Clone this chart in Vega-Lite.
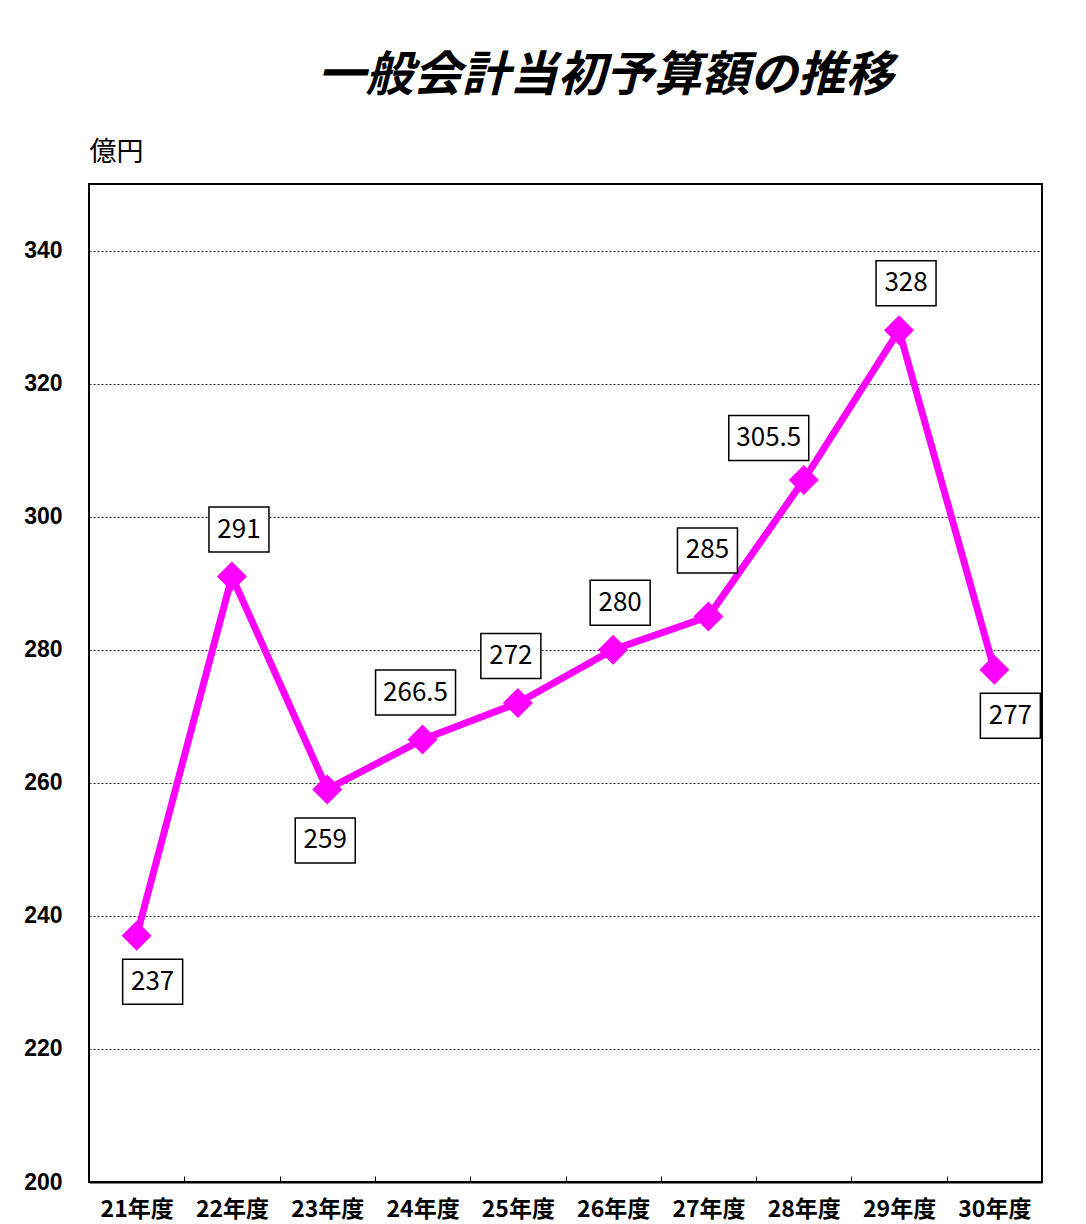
{
  "$schema": "https://vega.github.io/schema/vega-lite/v6.json",
  "width": 953,
  "height": 998,
  "autosize": "none",
  "padding": {"left": 89, "top": 184, "right": 44, "bottom": 42},
  "background": "white",
  "title": {
    "text": "一般会計当初予算額の推移",
    "font": "Noto Sans CJK JP",
    "fontSize": 48,
    "fontWeight": "bold",
    "fontStyle": "italic",
    "color": "black",
    "anchor": "middle",
    "frame": "group",
    "dx": 40,
    "offset": 37
  },
  "config": {"view": {"stroke": "black", "strokeWidth": 2}},
  "data": {
    "values": [
      {"year": "21年度", "v": 237, "pos": "br"},
      {"year": "22年度", "v": 291, "pos": "a1"},
      {"year": "23年度", "v": 259, "pos": "b"},
      {"year": "24年度", "v": 266.5, "pos": "a2"},
      {"year": "25年度", "v": 272, "pos": "a2"},
      {"year": "26年度", "v": 280, "pos": "a1"},
      {"year": "27年度", "v": 285, "pos": "ah"},
      {"year": "28年度", "v": 305.5, "pos": "al"},
      {"year": "29年度", "v": 328, "pos": "a1"},
      {"year": "30年度", "v": 277, "pos": "br"}
    ]
  },
  "encoding": {
    "x": {
      "field": "year",
      "type": "ordinal",
      "sort": null,
      "scale": {"type": "band", "paddingInner": 0, "paddingOuter": 0},
      "axis": {
        "title": null,
        "labelAngle": 0,
        "labelFont": "Noto Sans CJK JP",
        "labelFontSize": 23,
        "labelFontWeight": "bold",
        "labelColor": "black",
        "labelBaseline": "top",
        "labelPadding": 22,
        "tickBand": "extent",
        "tickSize": -6,
        "tickColor": "black",
        "tickWidth": 1,
        "domainColor": "black",
        "domainWidth": 2,
        "grid": false
      }
    },
    "y": {
      "field": "v",
      "type": "quantitative",
      "scale": {"domain": [200, 350], "nice": false, "zero": false},
      "axis": {
        "values": [200, 220, 240, 260, 280, 300, 320, 340],
        "title": "億円",
        "titleAngle": 0,
        "titleX": 0,
        "titleY": -32,
        "titleAlign": "left",
        "titleBaseline": "middle",
        "titleFont": "Noto Sans CJK JP",
        "titleFontSize": 27,
        "titleFontWeight": "normal",
        "titleColor": "black",
        "labelFont": "Liberation Sans",
        "labelFontSize": 23,
        "labelFontWeight": "bold",
        "labelColor": "black",
        "labelPadding": 27,
        "ticks": false,
        "tickSize": 0,
        "domain": false,
        "grid": true,
        "gridColor": "#222222",
        "gridDash": [2, 2],
        "gridWidth": 1
      }
    }
  },
  "layer": [
    {"mark": {"type": "line", "color": "#FF00FF", "strokeWidth": 7}},
    {"mark": {"type": "point", "shape": "diamond", "filled": true, "color": "#FF00FF", "size": 900, "opacity": 1}},

    {"transform": [{"filter": "datum.pos == 'br'"}],
     "mark": {"type": "point", "fill": "white", "stroke": "black", "strokeWidth": 1.5, "size": 3600, "opacity": 1, "fillOpacity": 1, "xOffset": 16, "yOffset": 46},
     "encoding": {"shape": {"condition": {"test": "datum.v % 1 != 0", "value": "M-1.333,-0.75H1.333V0.75H-1.333Z"}, "value": "M-1,-0.75H1V0.75H-1Z"}}},
    {"transform": [{"filter": "datum.pos == 'br'"}],
     "mark": {"type": "text", "font": "Noto Sans CJK JP", "fontSize": 26, "color": "black", "align": "center", "baseline": "middle", "dx": 16, "dy": 46},
     "encoding": {"text": {"field": "v", "type": "quantitative"}}},

    {"transform": [{"filter": "datum.pos == 'a1'"}],
     "mark": {"type": "point", "fill": "white", "stroke": "black", "strokeWidth": 1.5, "size": 3600, "opacity": 1, "fillOpacity": 1, "xOffset": 7, "yOffset": -47},
     "encoding": {"shape": {"condition": {"test": "datum.v % 1 != 0", "value": "M-1.333,-0.75H1.333V0.75H-1.333Z"}, "value": "M-1,-0.75H1V0.75H-1Z"}}},
    {"transform": [{"filter": "datum.pos == 'a1'"}],
     "mark": {"type": "text", "font": "Noto Sans CJK JP", "fontSize": 26, "color": "black", "align": "center", "baseline": "middle", "dx": 7, "dy": -47},
     "encoding": {"text": {"field": "v", "type": "quantitative"}}},

    {"transform": [{"filter": "datum.pos == 'a2'"}],
     "mark": {"type": "point", "fill": "white", "stroke": "black", "strokeWidth": 1.5, "size": 3600, "opacity": 1, "fillOpacity": 1, "xOffset": -7, "yOffset": -47},
     "encoding": {"shape": {"condition": {"test": "datum.v % 1 != 0", "value": "M-1.333,-0.75H1.333V0.75H-1.333Z"}, "value": "M-1,-0.75H1V0.75H-1Z"}}},
    {"transform": [{"filter": "datum.pos == 'a2'"}],
     "mark": {"type": "text", "font": "Noto Sans CJK JP", "fontSize": 26, "color": "black", "align": "center", "baseline": "middle", "dx": -7, "dy": -47},
     "encoding": {"text": {"field": "v", "type": "quantitative"}}},

    {"transform": [{"filter": "datum.pos == 'b'"}],
     "mark": {"type": "point", "fill": "white", "stroke": "black", "strokeWidth": 1.5, "size": 3600, "opacity": 1, "fillOpacity": 1, "xOffset": -2, "yOffset": 51},
     "encoding": {"shape": {"condition": {"test": "datum.v % 1 != 0", "value": "M-1.333,-0.75H1.333V0.75H-1.333Z"}, "value": "M-1,-0.75H1V0.75H-1Z"}}},
    {"transform": [{"filter": "datum.pos == 'b'"}],
     "mark": {"type": "text", "font": "Noto Sans CJK JP", "fontSize": 26, "color": "black", "align": "center", "baseline": "middle", "dx": -2, "dy": 51},
     "encoding": {"text": {"field": "v", "type": "quantitative"}}},

    {"transform": [{"filter": "datum.pos == 'ah'"}],
     "mark": {"type": "point", "fill": "white", "stroke": "black", "strokeWidth": 1.5, "size": 3600, "opacity": 1, "fillOpacity": 1, "xOffset": -1, "yOffset": -66},
     "encoding": {"shape": {"condition": {"test": "datum.v % 1 != 0", "value": "M-1.333,-0.75H1.333V0.75H-1.333Z"}, "value": "M-1,-0.75H1V0.75H-1Z"}}},
    {"transform": [{"filter": "datum.pos == 'ah'"}],
     "mark": {"type": "text", "font": "Noto Sans CJK JP", "fontSize": 26, "color": "black", "align": "center", "baseline": "middle", "dx": -1, "dy": -66},
     "encoding": {"text": {"field": "v", "type": "quantitative"}}},

    {"transform": [{"filter": "datum.pos == 'al'"}],
     "mark": {"type": "point", "fill": "white", "stroke": "black", "strokeWidth": 1.5, "size": 3600, "opacity": 1, "fillOpacity": 1, "xOffset": -35, "yOffset": -42},
     "encoding": {"shape": {"condition": {"test": "datum.v % 1 != 0", "value": "M-1.333,-0.75H1.333V0.75H-1.333Z"}, "value": "M-1,-0.75H1V0.75H-1Z"}}},
    {"transform": [{"filter": "datum.pos == 'al'"}],
     "mark": {"type": "text", "font": "Noto Sans CJK JP", "fontSize": 26, "color": "black", "align": "center", "baseline": "middle", "dx": -35, "dy": -42},
     "encoding": {"text": {"field": "v", "type": "quantitative"}}}
  ]
}
